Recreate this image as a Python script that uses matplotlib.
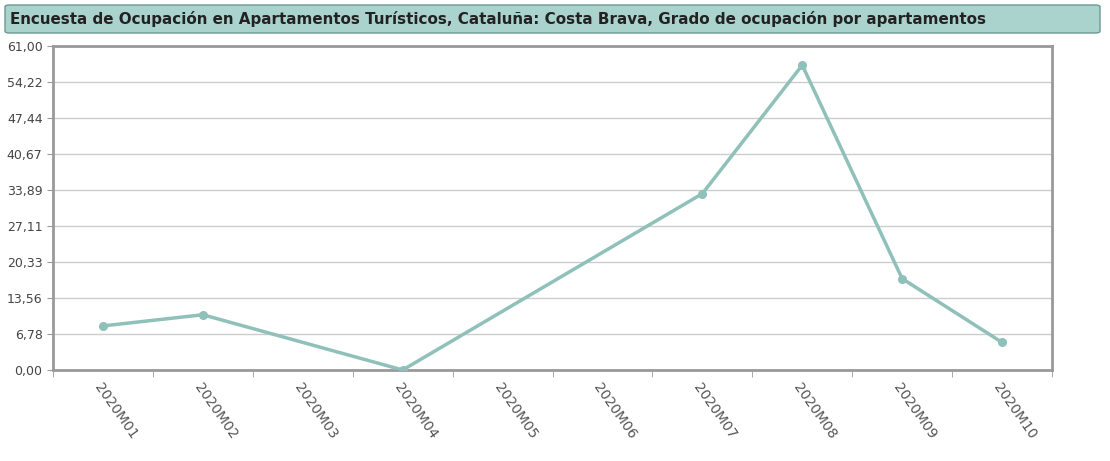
import matplotlib
matplotlib.use("Agg")
import matplotlib.pyplot as plt
import numpy as np
from matplotlib.patches import FancyBboxPatch

categories = ["2020M01","2020M02","2020M03","2020M04","2020M05","2020M06","2020M07","2020M08","2020M09","2020M10"]
values = [8.3, 10.4, np.nan, 0.0, np.nan, np.nan, 33.2, 57.4, 17.2, 5.2]
yticks = [0, 6.78, 13.56, 20.33, 27.11, 33.89, 40.67, 47.44, 54.22, 61.0]
title = "Encuesta de Ocupación en Apartamentos Turísticos, Cataluña: Costa Brava, Grado de ocupación por apartamentos"

W, H = 1110, 461
fig = plt.figure(figsize=(W/100, H/100), dpi=100)
ax = fig.add_axes([53/W, 1-370/H, (1052-53)/W, (370-46)/H])

tb = FancyBboxPatch((5/W, 1-33/H), 1095/W, 28/H, boxstyle="round,pad=0,rounding_size=0.004",
                    transform=fig.transFigure, facecolor="#a9d3cc", edgecolor="#6a9a93", lw=1)
fig.patches.append(tb)
fig.text(10/W, 1-19/H, title, fontsize=10.9, fontweight="bold", va="center", ha="left", color="#222222")

x = np.arange(len(categories))
v = np.array(values, dtype=float)
m = ~np.isnan(v)
ax.plot(x[m], v[m], color="#8fc0ba", lw=2.5, marker="o", ms=5.5, zorder=3, solid_capstyle="round")

ax.set_xlim(-0.5, len(categories)-0.5)
ax.set_ylim(0, 61)
ax.set_yticks(yticks)
ax.set_yticklabels([f"{t:.2f}".replace(".", ",") for t in yticks], fontsize=9, color="#444444")
ax.set_xticks(x)
ax.set_xticklabels(categories, rotation=-55, ha="left", va="top", rotation_mode="anchor", fontsize=10, color="#555555")
ax.set_xticks(np.arange(-0.5, len(categories), 1), minor=True)
ax.tick_params(axis="x", which="major", length=0, pad=8)
ax.tick_params(axis="x", which="minor", length=5, color="#999999")
ax.tick_params(axis="y", length=4, color="#999999")
ax.grid(axis="y", color="#cccccc", lw=1)
ax.set_axisbelow(True)
for s in ax.spines.values():
    s.set_color("#999999"); s.set_linewidth(2)

fig.savefig("out.png", dpi=100, facecolor="white")
